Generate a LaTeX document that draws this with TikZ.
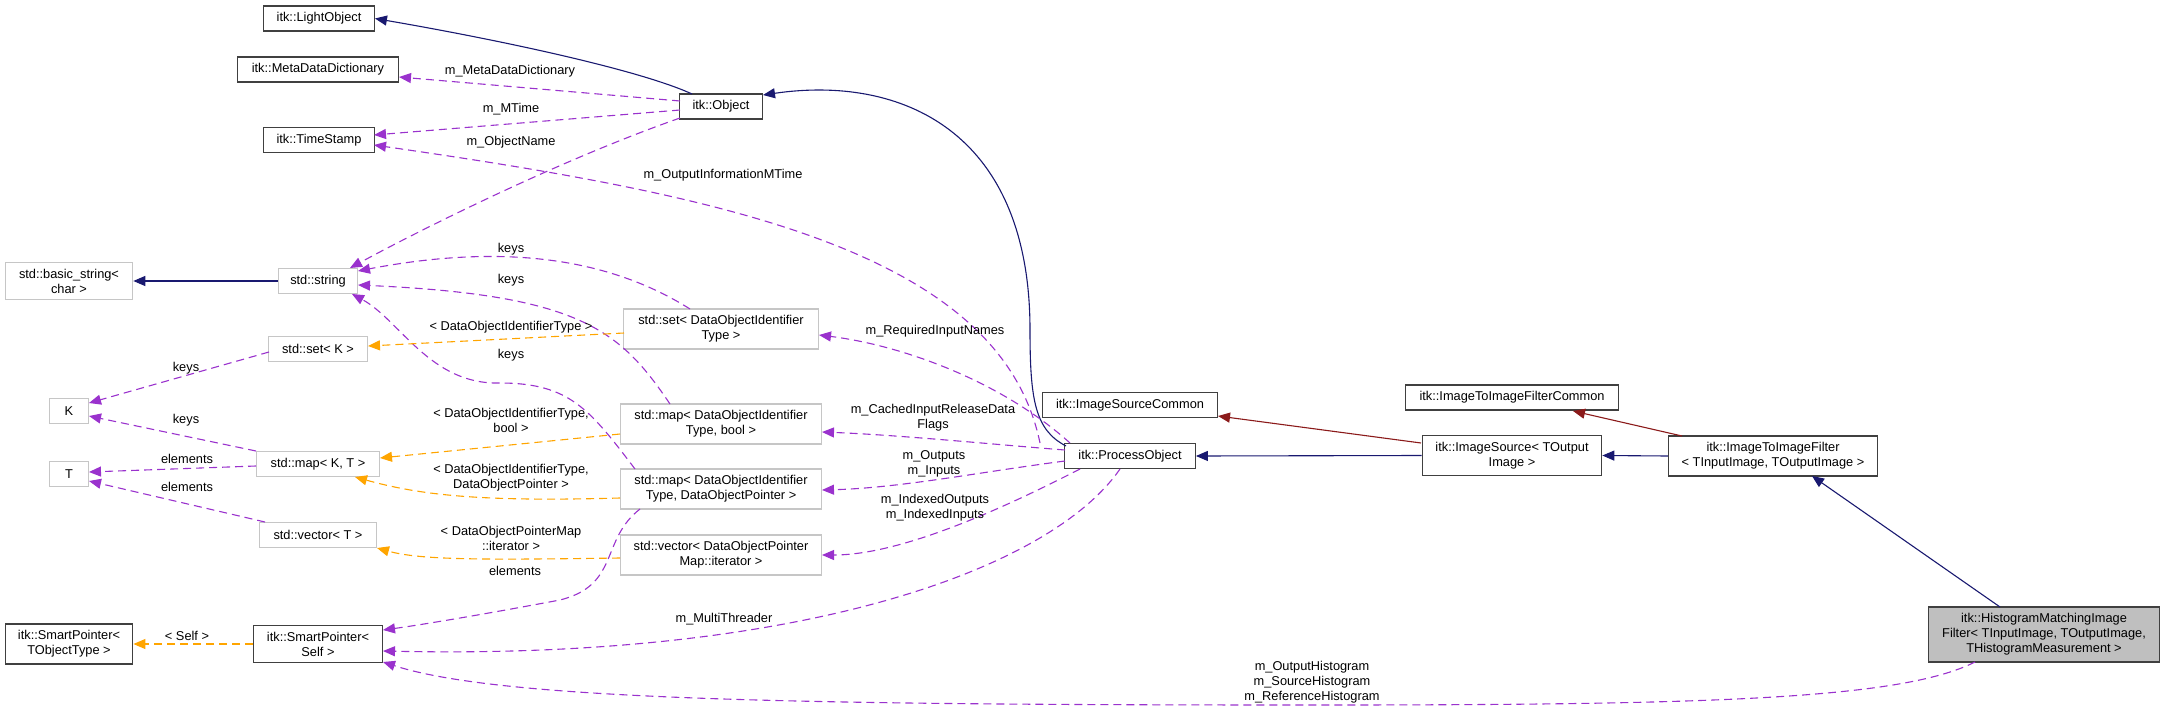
\documentclass[tikz,border=0pt]{standalone}
\usepackage{fontspec}
\setmainfont{Liberation Sans}
\usetikzlibrary{arrows.meta}
\definecolor{inh}{HTML}{191970}
\definecolor{use}{HTML}{9A32CD}
\definecolor{tpl}{HTML}{FFA500}
\definecolor{prv}{HTML}{8B1A1A}
\tikzset{
  cls/.style={draw=black!75,line width=1.3bp,fill=white,minimum height=25bp,inner xsep=2bp,inner ysep=6.5bp,align=center,font=\fontsize{12.8bp}{15bp}\selectfont},
  ext/.style={cls,draw=gray!45,line width=1.1bp},
  lbl/.style={align=center,font=\fontsize{12.8bp}{15bp}\selectfont,inner sep=0pt},
  tip/.style={-{Triangle[length=12bp,width=10bp]},line width=1.1bp},
  inhe/.style={tip,color=inh},
  usee/.style={tip,color=use,dash pattern=on 8bp off 5bp},
  tple/.style={tip,color=tpl,dash pattern=on 8bp off 5bp},
  prve/.style={tip,color=prv}
}
\begin{document}
\begin{tikzpicture}[x=1bp,y=-1bp]
  \useasboundingbox (0,0) rectangle (2164,711);
  % classes
  \node[cls,minimum width=111] (lo) at (319,18.5) {itk::LightObject};
  \node[cls,minimum width=161] (mdd) at (318,69.5) {itk::MetaDataDictionary};
  \node[cls,minimum width=111] (ts) at (319,140) {itk::TimeStamp};
  \node[cls,minimum width=83] (obj) at (721,106.5) {itk::Object};
  \node[ext,minimum width=128] (bs) at (69,281) {std::basic\_string<\\char >};
  \node[ext,minimum width=80] (str) at (318,281) {std::string};
  \node[ext,minimum width=99] (setk) at (318,349) {std::set< K >};
  \node[ext,minimum width=40] (k) at (69,411) {K};
  \node[ext,minimum width=124] (mapkt) at (318,464) {std::map< K, T >};
  \node[ext,minimum width=40] (t) at (69,474) {T};
  \node[ext,minimum width=117] (vect) at (318,535) {std::vector< T >};
  \node[cls,minimum width=128] (spo) at (69,644) {itk::SmartPointer<\\TObjectType >};
  \node[cls,minimum width=129] (sps) at (318,644) {itk::SmartPointer<\\Self >};
  \node[ext,minimum width=195] (setd) at (721,329) {std::set< DataObjectIdentifier\\Type >};
  \node[ext,minimum width=202] (mapb) at (721,424) {std::map< DataObjectIdentifier\\Type, bool >};
  \node[ext,minimum width=202] (mapd) at (721,489) {std::map< DataObjectIdentifier\\Type, DataObjectPointer >};
  \node[ext,minimum width=202] (vecd) at (721,555) {std::vector< DataObjectPointer\\Map::iterator >};
  \node[cls,minimum width=175] (isc) at (1130,405) {itk::ImageSourceCommon};
  \node[cls,minimum width=131] (po) at (1130,456) {itk::ProcessObject};
  \node[cls,minimum width=180] (is) at (1512,455.5) {itk::ImageSource< TOutput\\Image >};
  \node[cls,minimum width=214] (itifc) at (1512,397.5) {itk::ImageToImageFilterCommon};
  \node[cls,minimum width=210] (itif) at (1773,456) {itk::ImageToImageFilter\\< TInputImage, TOutputImage >};
  \node[cls,minimum width=232,fill=gray!50] (hm) at (2044,634.5) {itk::HistogramMatchingImage\\Filter< TInputImage, TOutputImage,\\THistogramMeasurement >};
  % inheritance
  \draw[inhe] (692,94) .. controls (640,70) and (500,40) .. (lo.east);
  \draw[inhe] (1066,446) .. controls (1035,430) and (1030,400) .. (1030,330) .. controls (1030,130) and (900,75) .. (763,95);
  \draw[inhe] (str.west) -- (bs.east |- str.west);
  \draw[inhe] (is.west) -- (po.east);
  \draw[inhe] (itif.west) -- (is.east);
  \draw[inhe] (2000,607) -- (1812,476);
  \draw[prve] (1421,443) -- (1218,416);
  \draw[prve] (1682,436) -- (1573,411);
  % members
  \draw[usee] (680,101) -- (399,77);
  \node[lbl] (l1) at (510,71) {m\_MetaDataDictionary};
  \draw[usee] (680,110) -- (374,135);
  \node[lbl] (l2) at (511,109) {m\_MTime};
  \draw[usee] (680,118) .. controls (560,160) and (420,230) .. (350,268);
  \node[lbl] (l3) at (511,142) {m\_ObjectName};
  \draw[usee] (1040,443) .. controls (1000,250) and (720,195) .. (374,145);
  \node[lbl] (l4) at (723,175) {m\_OutputInformationMTime};
  \draw[usee] (690,309) .. controls (620,265) and (520,240) .. (358,271);
  \node[lbl] (l5) at (511,249) {keys};
  \draw[usee] (670,404) .. controls (620,330) and (580,295) .. (358,285);
  \node[lbl] (l6) at (511,280) {keys};
  \draw[usee] (635,469) .. controls (590,410) and (570,383) .. (500,383) .. controls (430,385) and (400,320) .. (352,294);
  \node[lbl] (l7) at (511,355) {keys};
  \draw[usee] (269,352) -- (89,403);
  \node[lbl] (l8) at (186,368) {keys};
  \draw[usee] (256,451) -- (89,416);
  \node[lbl] (l9) at (186,420) {keys};
  \draw[usee] (256,466) -- (89,472);
  \node[lbl] (l10) at (187,459) {elements};
  \draw[usee] (265,522) -- (89,481);
  \node[lbl] (l11) at (187,487) {elements};
  \draw[tple] (624,333) -- (368,346);
  \node[lbl] (l12) at (511,327) {< DataObjectIdentifierType >};
  \draw[tple] (620,434) -- (380,458);
  \node[lbl] (l13) at (511,420) {< DataObjectIdentifierType,\\bool >};
  \draw[tple] (620,498) .. controls (480,502) and (420,495) .. (355,477);
  \node[lbl] (l14) at (511,478) {< DataObjectIdentifierType,\\DataObjectPointer >};
  \draw[tple] (620,558) .. controls (480,560) and (420,560) .. (377,548);
  \node[lbl] (l15) at (511,538) {< DataObjectPointerMap\\::iterator >};
  \draw[usee] (640,509) .. controls (600,540) and (620,585) .. (560,600) .. controls (480,615) and (420,625) .. (383,630);
  \node[lbl] (l16) at (515,571) {elements};
  \draw[tple] (sps.west) -- (spo.east);
  \node[lbl] (l17) at (187,636) {< Self >};
  \draw[usee] (1120,469) .. controls (1050,570) and (800,660) .. (383,651);
  \node[lbl] (l18) at (724,619) {m\_MultiThreader};
  \draw[usee] (1975,662) .. controls (1900,700) and (1700,705) .. (1312,705) .. controls (800,705) and (500,700) .. (383,662);
  \node[lbl] (l19) at (1312,682) {m\_OutputHistogram\\m\_SourceHistogram\\m\_ReferenceHistogram};
  \draw[usee] (1070,443) .. controls (1000,380) and (900,345) .. (819,335);
  \node[lbl] (l20) at (935,331) {m\_RequiredInputNames};
  \draw[usee] (1065,450) .. controls (1000,445) and (900,435) .. (822,432);
  \node[lbl] (l21) at (933,418) {m\_CachedInputReleaseData\\Flags};
  \draw[usee] (1065,461) .. controls (980,472) and (900,488) .. (822,490);
  \node[lbl] (l22) at (934,464) {m\_Outputs\\m\_Inputs};
  \draw[usee] (1080,469) .. controls (1000,510) and (900,555) .. (822,555);
  \node[lbl] (l23) at (935,508) {m\_IndexedOutputs\\m\_IndexedInputs};
\end{tikzpicture}
\end{document}
